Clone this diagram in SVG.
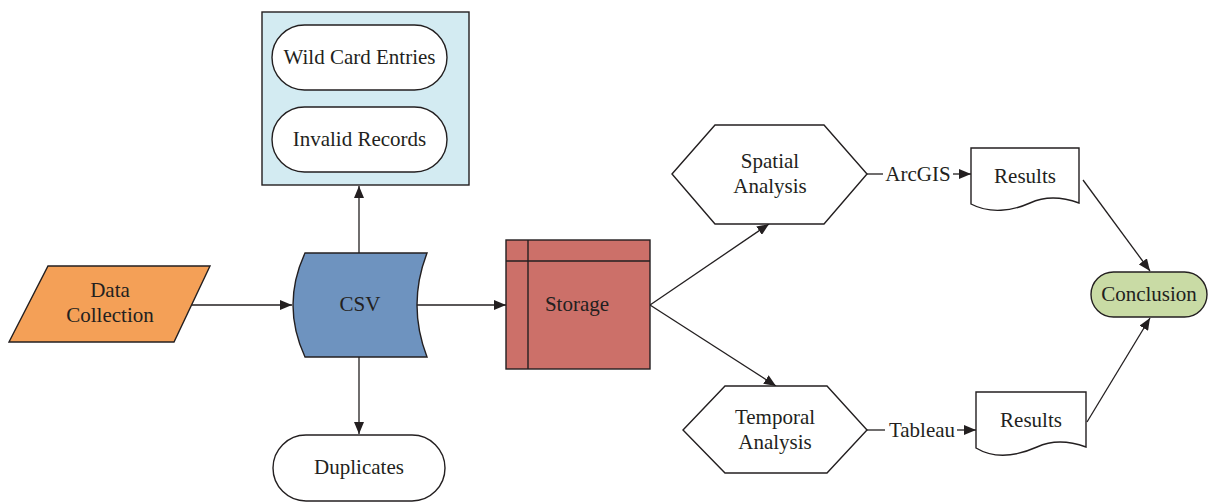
<svg xmlns="http://www.w3.org/2000/svg" width="1210" height="503" viewBox="0 0 1210 503">
<defs>
<marker id="ah" viewBox="0 0 12 10" refX="12" refY="5" markerWidth="12" markerHeight="10" markerUnits="userSpaceOnUse" orient="auto">
<path d="M0,0 L12,5 L0,10 Z" fill="#231F20"/>
</marker>
<style>
.s{stroke:#231F20;stroke-width:1.4;}
.t{font-family:"Liberation Serif","Times New Roman",serif;font-size:21px;fill:#231F20;text-anchor:middle;dominant-baseline:central;}
.c{stroke:#231F20;stroke-width:1.3;fill:none;marker-end:url(#ah);}
.l{stroke:#231F20;stroke-width:1.3;fill:none;}
</style>
</defs>
<rect width="1210" height="503" fill="#ffffff"/>
<g id="connectors">
<line class="c" x1="192" y1="305" x2="292" y2="305"/>
<line class="c" x1="417" y1="305" x2="506" y2="305"/>
<line class="c" x1="359" y1="253" x2="359" y2="186"/>
<line class="c" x1="359" y1="357" x2="359" y2="434"/>
<line class="c" x1="650" y1="305" x2="769" y2="224"/>
<line class="c" x1="650" y1="305" x2="776" y2="386"/>
<line class="l" x1="867" y1="174" x2="883" y2="174"/>
<line class="c" x1="953" y1="174" x2="971" y2="174"/>
<line class="l" x1="867" y1="430" x2="885" y2="430"/>
<line class="c" x1="957" y1="430" x2="976" y2="430"/>
<line class="c" x1="1083" y1="180" x2="1150" y2="271"/>
<line class="c" x1="1087" y1="422" x2="1150" y2="318"/>
</g>
<g id="data-collection">
<polygon class="s" points="48,266 210,266 174,342 9,342" fill="#F4A057"/>
<text class="t" x="110" y="290">Data</text>
<text class="t" x="110" y="315">Collection</text>
</g>
<g id="csv">
<path class="s" d="M305,253 L427,253 Q407,305 427,357 L305,357 Q281,305 305,253 Z" fill="#6E93BF"/>
<text class="t" x="360" y="304">CSV</text>
</g>
<g id="exclusions">
<rect class="s" x="262" y="12" width="207" height="173" fill="#D3EBF2"/>
</g>
<g id="wild-card">
<rect class="s" x="272" y="25" width="175" height="65" rx="32.5" fill="#ffffff"/>
<text class="t" x="359.5" y="57">Wild Card Entries</text>
</g>
<g id="invalid-records">
<rect class="s" x="272" y="107" width="175" height="65" rx="32.5" fill="#ffffff"/>
<text class="t" x="359.5" y="139">Invalid Records</text>
</g>
<g id="duplicates">
<rect class="s" x="273" y="435" width="172" height="66" rx="33" fill="#ffffff"/>
<text class="t" x="359" y="467">Duplicates</text>
</g>
<g id="storage">
<rect class="s" x="506" y="240" width="144" height="129" fill="#CC7069"/>
<line class="s" x1="528" y1="240" x2="528" y2="369"/>
<line class="s" x1="506" y1="261" x2="650" y2="261"/>
<text class="t" x="577" y="304">Storage</text>
</g>
<g id="spatial-analysis">
<polygon class="s" points="672,174 715,125 824,125 867,174 824,224 715,224" fill="#ffffff"/>
<text class="t" x="770" y="161">Spatial</text>
<text class="t" x="770" y="186">Analysis</text>
</g>
<g id="temporal-analysis">
<polygon class="s" points="683,430 725,386 827,386 867,430 827,473 725,473" fill="#ffffff"/>
<text class="t" x="775" y="417">Temporal</text>
<text class="t" x="775" y="442">Analysis</text>
</g>
<text class="t" x="918" y="174">ArcGIS</text>
<text class="t" x="922" y="430">Tableau</text>
<g id="results-1">
<path class="s" d="M971,148 L1079,148 L1079,203 C1060,196 1045,196 1030,203 C1012,211 990,214 971,204 Z" fill="#ffffff"/>
<text class="t" x="1025" y="176">Results</text>
</g>
<g id="results-2">
<path class="s" d="M976,392 L1086,392 L1086,447 C1067,440 1052,440 1037,447 C1019,455 996,460 976,448 Z" fill="#ffffff"/>
<text class="t" x="1031" y="420">Results</text>
</g>
<g id="conclusion">
<rect class="s" x="1091" y="272" width="116" height="45" rx="22.5" fill="#C9DBA5"/>
<text class="t" x="1149" y="294">Conclusion</text>
</g>
</svg>
